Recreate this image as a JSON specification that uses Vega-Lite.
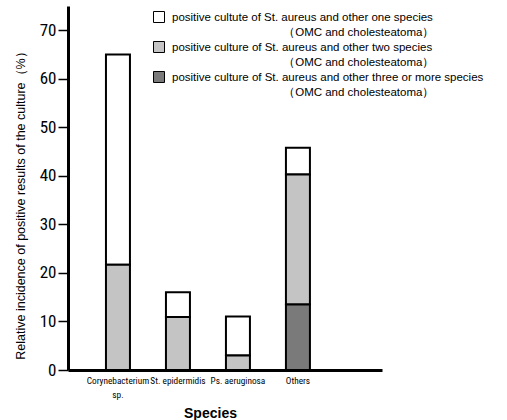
{
  "$schema": "https://vega.github.io/schema/vega-lite/v6.json",
  "width": 314,
  "height": 364,
  "autosize": "none",
  "padding": {"left": 68, "top": 6, "right": 125, "bottom": 50},
  "background": "white",
  "config": {"view": {"stroke": null}},
  "data": {
    "values": [
      {"species": "Corynebacterium sp.", "group": "positive cultute of St. aureus and other one species", "rank": 3, "value": 43.3},
      {"species": "Corynebacterium sp.", "group": "positive culture of St. aureus and other two species", "rank": 2, "value": 21.7},
      {"species": "St. epidermidis", "group": "positive cultute of St. aureus and other one species", "rank": 3, "value": 5.1},
      {"species": "St. epidermidis", "group": "positive culture of St. aureus and other two species", "rank": 2, "value": 10.9},
      {"species": "Ps. aeruginosa", "group": "positive cultute of St. aureus and other one species", "rank": 3, "value": 8.0},
      {"species": "Ps. aeruginosa", "group": "positive culture of St. aureus and other two species", "rank": 2, "value": 3.0},
      {"species": "Others", "group": "positive cultute of St. aureus and other one species", "rank": 3, "value": 5.5},
      {"species": "Others", "group": "positive culture of St. aureus and other two species", "rank": 2, "value": 26.8},
      {"species": "Others", "group": "positive culture of St. aureus and other three or more species", "rank": 1, "value": 13.5}
    ]
  },
  "mark": {"type": "bar", "stroke": "black", "strokeWidth": 2, "opacity": 1},
  "encoding": {
    "x": {
      "field": "species",
      "type": "nominal",
      "sort": ["Corynebacterium sp.", "St. epidermidis", "Ps. aeruginosa", "Others"],
      "scale": {"paddingInner": 0.6, "paddingOuter": 0.917, "align": 0.345},
      "axis": {
        "title": "Species",
        "titleFont": "Liberation Sans",
        "titleFontSize": 14,
        "titleFontWeight": "bold",
        "titleColor": "black",
        "titleX": 142,
        "titleY": 43,
        "titleAlign": "center",
        "titleBaseline": "middle",
        "labelAngle": 0,
        "labelFont": "Roboto Condensed, Noto Sans Condensed, Liberation Sans Narrow, DejaVu Sans Condensed, Arial Narrow, sans-serif",
        "labelFontSize": 9.3,
        "labelColor": "black",
        "labelPadding": 6,
        "labelLineHeight": 14,
        "labelOverlap": false,
        "labelExpr": "datum.value == 'Corynebacterium sp.' ? ['Corynebacterium', 'sp.'] : datum.value",
        "ticks": false,
        "domainColor": "black",
        "domainWidth": 3
      }
    },
    "y": {
      "field": "value",
      "type": "quantitative",
      "aggregate": "sum",
      "stack": "zero",
      "scale": {"domain": [0, 75], "nice": false},
      "axis": {
        "title": "Relative incidence of positive results of the culture（%）",
        "titleFont": "Liberation Sans",
        "titleFontSize": 12.5,
        "titleFontWeight": "normal",
        "titleColor": "black",
        "titleX": -48,
        "titleY": 196,
        "titleAlign": "center",
        "titleBaseline": "middle",
        "values": [0, 10, 20, 30, 40, 50, 60, 70],
        "grid": false,
        "labelFont": "Roboto Condensed, Noto Sans Condensed, Liberation Sans Narrow, DejaVu Sans Condensed, Arial Narrow, sans-serif",
        "labelFontSize": 17,
        "labelColor": "black",
        "labelPadding": 2,
        "tickSize": 10,
        "tickWidth": 1.5,
        "tickColor": "black",
        "domainColor": "black",
        "domainWidth": 3
      }
    },
    "fill": {
      "field": "group",
      "type": "nominal",
      "scale": {
        "domain": [
          "positive cultute of St. aureus and other one species",
          "positive culture of St. aureus and other two species",
          "positive culture of St. aureus and other three or more species"
        ],
        "range": ["#ffffff", "#c4c4c4", "#7a7a7a"]
      },
      "legend": {
        "title": null,
        "orient": "none",
        "legendX": 85,
        "legendY": 5,
        "symbolType": "square",
        "symbolSize": 121,
        "symbolStrokeColor": "black",
        "symbolStrokeWidth": 1,
        "symbolOpacity": 1,
        "labelFont": "Liberation Sans",
        "labelFontSize": 11.5,
        "labelColor": "black",
        "labelLimit": 500,
        "labelOffset": 7,
        "labelBaseline": "top",
        "rowPadding": 0,
        "encode": {"labels": {"update": {"lineHeight": {"value": 15.5}, "dy": {"value": -5.5}}}},
        "labelExpr": "[datum.label, '\u200b\u3000\u3000\u3000\u3000\u3000\u3000\u3000\u3000\u3000\u00a0（OMC and cholesteatoma）']"
      }
    },
    "order": {"field": "rank", "type": "quantitative"}
  }
}
